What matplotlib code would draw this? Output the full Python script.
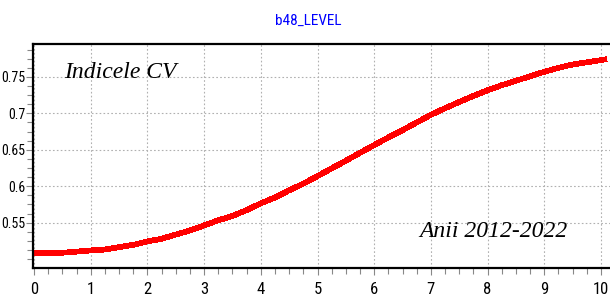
import matplotlib
matplotlib.use("Agg")
import matplotlib.pyplot as plt
from matplotlib.ticker import MultipleLocator
from matplotlib import font_manager

years = [0, 0.25, 0.5, 0.75, 1, 1.25, 1.5, 1.75, 2, 2.25, 2.5, 2.75, 3, 3.25, 3.5, 3.75,
         4, 4.25, 4.5, 4.75, 5, 5.25, 5.5, 5.75, 6, 6.25, 6.5, 6.75, 7, 7.25, 7.5, 7.75,
         8, 8.25, 8.5, 8.75, 9, 9.25, 9.5, 9.75, 10, 10.1]
level = [0.5085, 0.5085, 0.5088, 0.5103, 0.5120, 0.5132, 0.5165, 0.5196, 0.5243, 0.5280,
         0.5337, 0.5393, 0.5463, 0.5533, 0.5593, 0.5673, 0.5766, 0.5846, 0.5945, 0.6035,
         0.6140, 0.6245, 0.6350, 0.6459, 0.6565, 0.6670, 0.6770, 0.6875, 0.6980, 0.7070,
         0.7156, 0.7239, 0.7317, 0.7386, 0.7446, 0.7510, 0.7570, 0.7625, 0.7670, 0.7700,
         0.7730, 0.7744]
title = "b48_LEVEL"
label_left = "Indicele CV"
label_right = "Anii 2012-2022"

available = {f.name for f in font_manager.fontManager.ttflist}
narrow_font = None
for cand in ["Liberation Sans Narrow", "DejaVu Sans Condensed", "Roboto Condensed",
             "Open Sans Condensed", "Roboto", "Liberation Sans"]:
    if cand in available:
        narrow_font = cand
        break
narrow = [narrow_font, "DejaVu Sans"] if narrow_font else ["DejaVu Sans"]
narrow_stretch = "condensed"

fig = plt.figure(figsize=(6.10, 2.98), dpi=100)
ax = fig.add_axes([0.054, 0.101, 0.946, 0.751])
ax.plot(years, level, color="#ff0000", lw=3.4, antialiased=False, solid_capstyle="butt")

ax.set_xlim(-0.02, 10.16)
ax.set_ylim(0.488, 0.795)
ax.xaxis.set_minor_locator(MultipleLocator(0.25))
ax.yaxis.set_minor_locator(MultipleLocator(0.0125))
ax.set_yticks([0.55, 0.6, 0.65, 0.7, 0.75])
ax.set_yticklabels(["0.55", "0.6", "0.65", "0.7", "0.75"])
ax.set_xticks(range(0, 11))
ax.set_xticklabels([str(i) for i in range(0, 11)])

ax.grid(True, which="major", color="#b0b0b0", linestyle=(0, (1.5, 2)), lw=0.8)
ax.tick_params(axis="both", which="major", direction="out", length=5, width=0.8,
               color="#888888")
ax.tick_params(axis="both", which="minor", direction="out", length=4, width=0.8,
               color="#888888")
ax.tick_params(axis="x", pad=5, labelsize=12)
ax.tick_params(axis="y", pad=0.5, labelsize=10)
for lab in ax.get_xticklabels() + ax.get_yticklabels():
    lab.set_family(narrow)
    lab.set_stretch(narrow_stretch)

for s in ["top", "bottom", "left"]:
    ax.spines[s].set_linewidth(1.6)
    ax.spines[s].set_color("black")
ax.spines["right"].set_visible(False)

fig.text(0.505, 0.93, title, color="#0000ff", fontsize=11, family=narrow,
         stretch=narrow_stretch, ha="center", va="center")
ax.text(0.054, 0.873, label_left, transform=ax.transAxes, family="Liberation Serif",
        style="italic", fontsize=17, ha="left", va="center")
ax.text(0.67, 0.163, label_right, transform=ax.transAxes, family="Liberation Serif",
        style="italic", fontsize=17, ha="left", va="center")

fig.savefig("out.png", dpi=100)
